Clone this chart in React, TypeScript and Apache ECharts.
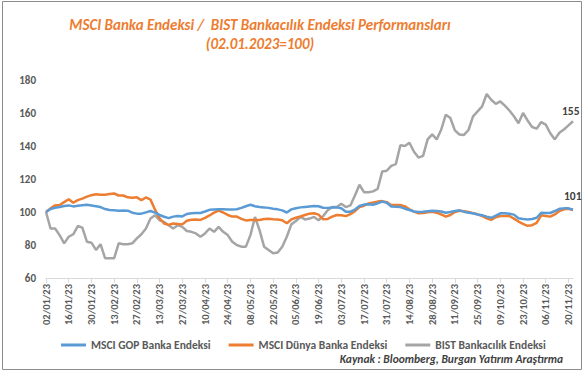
import React, { useEffect, useRef } from "react";
import * as echarts from "echarts";

const tickLabels = [
  "02/01/23", "16/01/23", "30/01/23", "13/02/23", "27/02/23", "13/03/23",
  "27/03/23", "10/04/23", "24/04/23", "08/05/23", "22/05/23", "05/06/23",
  "19/06/23", "03/07/23", "17/07/23", "31/07/23", "14/08/23", "28/08/23",
  "11/09/23", "25/09/23", "09/10/23", "23/10/23", "06/11/23", "20/11/23",
];

// one value every 2 business days, 02/01/23 .. 22/11/23
const msciGop = [
  100, 101.8, 102.6, 103, 103.6, 104, 103.4, 103.8, 104.1, 104.4,
  104, 103.5, 103, 101.8, 101.2, 101, 100.8, 100.9, 100.8, 99.6,
  99, 99, 99.8, 100.6, 99.6, 98.2, 97.1, 96.3, 97.2, 97.6,
  97.3, 98.8, 99.2, 99.4, 99.4, 100.3, 101.3, 101.5, 101.7, 101.7,
  101.5, 101.5, 101.7, 102.5, 103.5, 104.4, 103.5, 103, 102.8, 102.5,
  102, 101.6, 101, 99.7, 101.6, 102.3, 102.8, 103.1, 103.4, 103.6,
  103.5, 102.6, 102.5, 102.7, 102.8, 102.3, 100.2, 100.2, 101.5, 103.6,
  104.5, 104.7, 104.4, 105.3, 106.3, 105.6, 103.3, 103.2, 103, 102,
  101.2, 100.3, 100, 100.2, 100.5, 100.8, 100.6, 100.3, 99.5, 100,
  100.6, 101, 100.2, 99.5, 99.2, 98.5, 98, 97.2, 96.5, 97.8,
  99.2, 99.2, 98.9, 98.4, 96.2, 95.8, 95.5, 95.8, 96.5, 99.5,
  99.4, 99.4, 100.6, 101.9, 102.2, 102.2, 101.4,
];

const msciWorld = [
  100, 102.2, 104, 104.2, 106, 107.7, 105.6, 107.2, 108.1, 109.3,
  110.2, 110.7, 110.4, 110.4, 110.9, 111.2, 110, 110, 108.9, 108.7,
  108.9, 107.2, 108.8, 107.5, 101.4, 96.2, 93, 92.2, 93, 92.8,
  92.5, 94.7, 95.3, 95.4, 95.2, 96.4, 97.9, 99.6, 100.8, 99.7,
  98.2, 97.2, 97.2, 95.8, 94.9, 95.1, 95.2, 95.2, 95.8, 95.9,
  95.6, 95.4, 95, 93.2, 95.5, 96.5, 97.3, 98.2, 99, 99.2,
  98.4, 95.6, 95.8, 97.2, 98.2, 98, 97.5, 98.7, 100.5, 103,
  103.8, 105.2, 105.7, 106.3, 106.6, 106, 104.2, 104.2, 104.2, 103.4,
  101.6, 100.2, 99.2, 99.4, 99.8, 100.2, 99.6, 98.5, 97.2, 98.2,
  100, 100.8, 100.5, 100, 99.2, 98.6, 97.6, 96.2, 95.2, 96.8,
  97.6, 97.6, 97.6, 96, 94.2, 92.8, 91.6, 92, 93.4, 98,
  97.6, 97.2, 98.5, 100.6, 101.6, 102, 101.2,
];

const bist = [
  100, 90, 90, 86, 81, 85, 86.5, 91.5, 90.5, 82,
  81.4, 77, 80.5, 72, 72, 72, 81, 80.5, 80.5, 81,
  84, 86.5, 90, 96, 98, 95, 94, 92, 90, 92,
  91, 88.5, 88, 87, 85, 87, 90, 88, 91, 88,
  86, 82, 80, 79, 79, 86, 97, 89, 79, 77,
  75, 75.5, 79, 85, 92.5, 94.5, 97, 95.5, 96, 97,
  95, 97.5, 101, 103, 103, 105, 103, 104, 110, 116.5,
  112, 112, 112.5, 114, 124.5, 125, 128, 129, 140.5, 140,
  142, 136.5, 133, 134, 144, 147, 144, 150, 159, 157,
  149.5, 147, 146.7, 149.7, 158, 161, 164, 171.5, 168, 165.5,
  167, 164.5, 161.5, 158, 153.8, 160, 155.5, 151.5, 150.5, 154.5,
  153, 147.7, 144, 148, 150, 152.5, 155,
];

const seriesNames = [
  "MSCI GOP Banka Endeksi",
  "MSCI Dünya Banka Endeksi",
  "BIST Bankacılık Endeksi",
];
const seriesColors = ["#5B9BD5", "#ED7D31", "#A5A5A5"];

const FONT = "Carlito, 'Liberation Sans Narrow', Lato, sans-serif";

export default function App() {
  const ref = useRef<HTMLDivElement>(null);
  useEffect(() => {
    if (!ref.current) return;
    const chart = echarts.init(ref.current, undefined, { renderer: "svg" });
    const categories = msciGop.map((_, k) => String(k));
    const datas = [msciGop, msciWorld, bist];
    const endLabels = [
      { show: true, offset: [-17, -14] },
      { show: false },
      { show: true, offset: [-19, -10] },
    ];
    chart.setOption({
      animation: false,
      backgroundColor: "#ffffff",
      textStyle: { fontFamily: FONT },
      graphic: [
        {
          type: "rect",
          shape: { x: 2.5, y: 1.5, width: 579, height: 368 },
          style: { fill: "none", stroke: "#8c8c8c", lineWidth: 1 },
          silent: true,
        },
        {
          type: "text",
          x: 260,
          y: 25,
          style: {
            text: "MSCI Banka Endeksi /  BIST Bankacılık Endeksi Performansları",
            fill: "#ED7D31",
            font: `italic bold 15px ${FONT}`,
            align: "center",
            verticalAlign: "middle",
          },
        },
        {
          type: "text",
          x: 260,
          y: 44,
          style: {
            text: "(02.01.2023=100)",
            fill: "#ED7D31",
            font: `italic bold 15px ${FONT}`,
            align: "center",
            verticalAlign: "middle",
          },
        },
        {
          type: "text",
          x: 563,
          y: 359,
          style: {
            text: "Kaynak : Bloomberg, Burgan Yatırım Araştırma",
            fill: "#404040",
            font: `italic bold 11.5px ${FONT}`,
            align: "right",
            verticalAlign: "middle",
          },
        },
      ],
      grid: { left: 46, right: 14, top: 80, bottom: 98, containLabel: false },
      legend: {
        left: 56,
        top: 334,
        icon: "rect",
        itemWidth: 25,
        itemHeight: 3,
        itemGap: 18,
        textStyle: { color: "#595959", fontSize: 11.5, fontWeight: "bold", fontFamily: FONT },
        data: seriesNames,
      },
      xAxis: {
        type: "category",
        data: categories,
        boundaryGap: false,
        axisLine: { lineStyle: { color: "#d9d9d9", width: 1 } },
        axisTick: { show: true, interval: 4, length: 5, lineStyle: { color: "#d9d9d9" } },
        axisLabel: {
          interval: 4,
          rotate: 90,
          margin: 6,
          color: "#595959",
          fontSize: 10.5,
          fontWeight: "bold",
          fontFamily: FONT,
          formatter: (_v: string, idx: number) => tickLabels[idx / 5] ?? "",
        },
        splitLine: { show: false },
      },
      yAxis: {
        type: "value",
        min: 60,
        max: 180,
        interval: 20,
        axisLine: { show: false },
        axisTick: { show: false },
        splitLine: { show: false },
        axisLabel: {
          margin: 10,
          color: "#595959",
          fontSize: 11,
          fontWeight: "bold",
          fontFamily: FONT,
        },
      },
      series: seriesNames.map((name, s) => ({
        name,
        type: "line",
        data: datas[s],
        symbol: "none",
        showSymbol: false,
        color: seriesColors[s],
        lineStyle: { color: seriesColors[s], width: 2.5 },
        z: s === 2 ? 1 : 4 - s,
        endLabel: {
          ...endLabels[s],
          formatter: (p: any) => String(Math.round(p.value)),
          color: "#404040",
          fontWeight: "bold",
          fontSize: 11.5,
          fontFamily: FONT,
        },
      })),
    });
    return () => chart.dispose();
  }, []);
  return (
    <div
      ref={ref}
      style={{ position: "fixed", left: 0, top: 0, width: 587, height: 376 }}
    />
  );
}
